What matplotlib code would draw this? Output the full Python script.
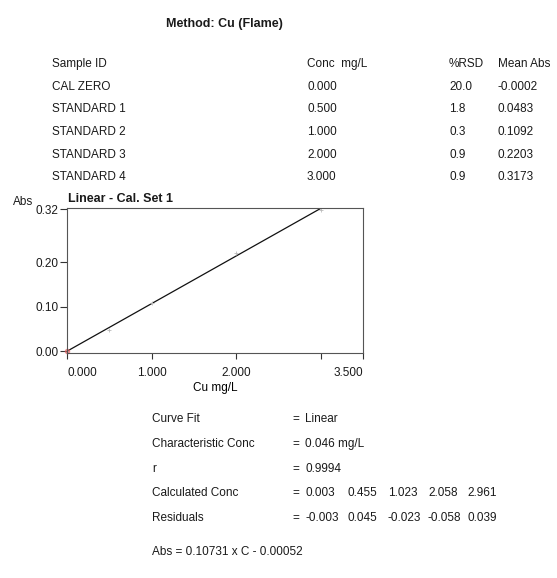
import numpy as np
import matplotlib.pyplot as plt

plt.rcParams['font.family'] = ['Liberation Sans', 'DejaVu Sans']
plt.rcParams['text.color'] = '#1a1a1a'

# calibration table
sample_ids = ['CAL ZERO', 'STANDARD 1', 'STANDARD 2', 'STANDARD 3', 'STANDARD 4']
conc = [0.000, 0.500, 1.000, 2.000, 3.000]
rsd = [20.0, 1.8, 0.3, 0.9, 0.9]
mean_abs = [-0.0002, 0.0483, 0.1092, 0.2203, 0.3173]

# fit results
slope = 0.10731
intercept = -0.00052
char_conc = 0.046
r_value = 0.9994
calc_conc = [0.003, 0.455, 1.023, 2.058, 2.961]
residuals = [-0.003, 0.045, -0.023, -0.058, 0.039]

W, H = 557, 578
fig = plt.figure(figsize=(W / 100, H / 100), dpi=100)
fig.patch.set_facecolor('white')

def px(x, y):
    return x / W, 1 - y / H

fs = 8.5
fig.text(*px(166, 24), 'Method: Cu (Flame)', fontsize=9, fontweight='bold', va='center')

# table
fig.text(*px(52, 64), 'Sample ID', fontsize=fs, va='center')
fig.text(*px(307, 64), 'Conc  mg/L', fontsize=fs, va='center')
fig.text(*px(449, 64), '%RSD', fontsize=fs, va='center')
fig.text(*px(498, 64), 'Mean Abs', fontsize=fs, va='center')
for i, (sid, c, rs, ma) in enumerate(zip(sample_ids, conc, rsd, mean_abs)):
    row_y = 87 + 22.5 * i
    fig.text(*px(52, row_y), sid, fontsize=fs, va='center')
    fig.text(*px(307, row_y), f'{c:.3f}', fontsize=fs, va='center')
    fig.text(*px(449, row_y), f'{rs:.1f}', fontsize=fs, va='center')
    fig.text(*px(498, row_y), f'{ma:.4f}', fontsize=fs, va='center')

# calibration plot
ax = fig.add_axes([67 / W, 1 - 353 / H, 296 / W, 145 / H])
xx = np.array([0, 3.5])
ax.plot(xx, slope * xx + intercept, color='#111111', lw=0.9)
ax.plot(conc[1:], mean_abs[1:], '+', color='#bbbbbb', ms=3, mew=0.6)
ax.plot(conc[0], mean_abs[0], 'o', color='#e06060', ms=3, alpha=0.6, clip_on=False)
ax.set_xlim(0, 3.5)
ax.set_ylim(-0.0045, 0.3223)
ax.set_xticks([0, 1, 2, 3, 3.5])
ax.set_xticklabels(['0.000', '1.000', '2.000', '', '3.500'])
xlabs = ax.get_xticklabels()
xlabs[0].set_ha('left')
xlabs[-1].set_ha('right')
ax.set_yticks([0, 0.10, 0.20, 0.32])
ax.set_yticklabels(['0.00', '0.10', '0.20', '0.32'])
ax.tick_params(axis='x', direction='out', length=4, width=0.8, labelsize=fs, pad=6,
               color='#333333', labelcolor='#1a1a1a')
ax.tick_params(axis='y', direction='out', length=5, width=0.8, labelsize=fs, pad=1,
               color='#333333', labelcolor='#1a1a1a')
for s in ax.spines.values():
    s.set_linewidth(0.8)
    s.set_color('#555555')
ax.text(-0.183, 1.04, 'Abs', transform=ax.transAxes, fontsize=fs, ha='left', va='center')
ax.text(0.004, 1.06, 'Linear - Cal. Set 1', transform=ax.transAxes, fontsize=9,
        fontweight='bold', ha='left', va='center')
ax.set_xlabel('Cu mg/L', fontsize=fs, labelpad=2)

# fit summary
labels = ['Curve Fit', 'Characteristic Conc', 'r', 'Calculated Conc', 'Residuals']
values = ['Linear', f'{char_conc:.3f} mg/L', f'{r_value:.4f}']
for i, lab in enumerate(labels):
    y = 419 + 24.8 * i
    fig.text(*px(152, y), lab, fontsize=fs, va='center')
    fig.text(*px(292, y), '=', fontsize=fs, va='center')
    if i < 3:
        fig.text(*px(305, y), values[i], fontsize=fs, va='center')
    else:
        row = calc_conc if i == 3 else residuals
        for xpos, v in zip([305, 347, 388, 428, 467], row):
            fig.text(*px(xpos, y), f'{v:.3f}', fontsize=fs, va='center')
fig.text(*px(152, 552), f'Abs = {slope:.5f} x C - {abs(intercept):.5f}', fontsize=fs, va='center')

fig.savefig('out.png', dpi=100)
